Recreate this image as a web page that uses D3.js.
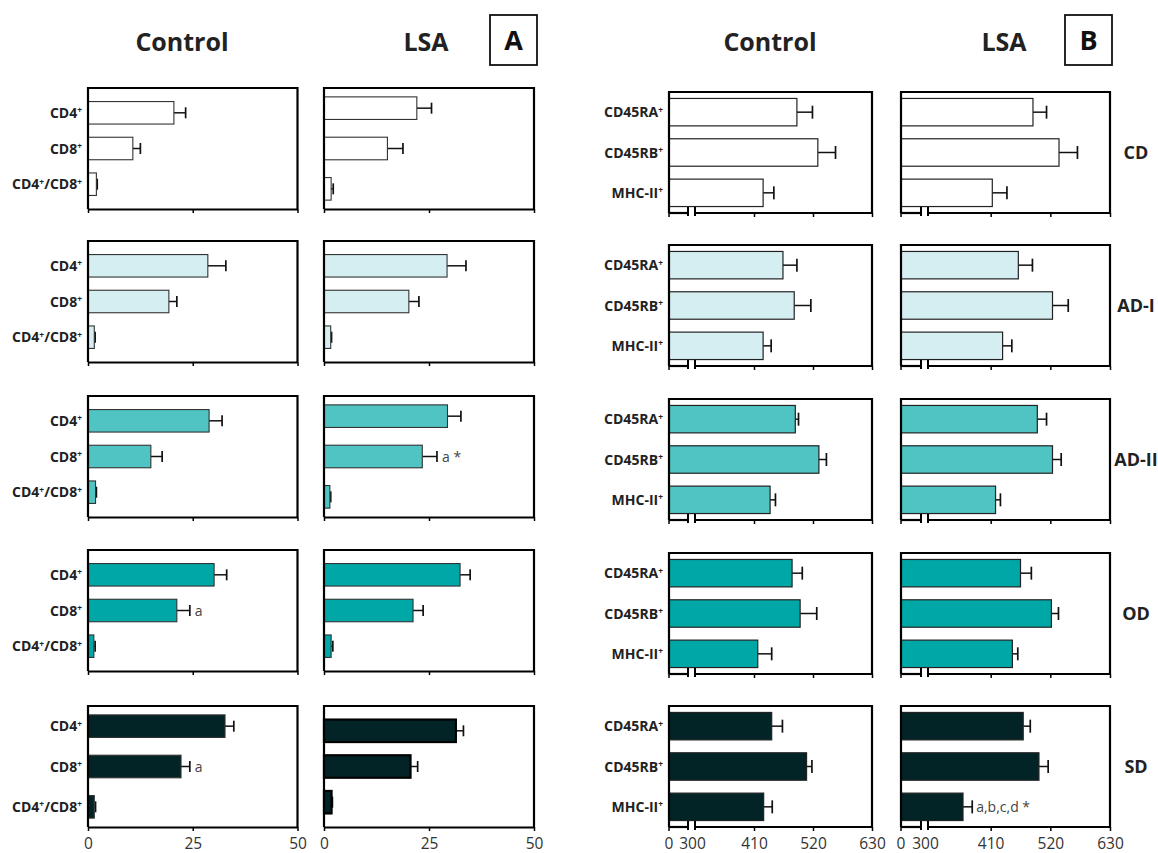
<!DOCTYPE html>
<html>
<head>
<meta charset="utf-8">
<script src="https://cdn.jsdelivr.net/npm/d3@7"></script>
<style>
  body { margin: 0; background: #fff; }
  svg { display: block; }
  text { font-family: "Open Sans", "Noto Sans", sans-serif; }
</style>
</head>
<body>
<svg id="chart" width="1158" height="853"></svg>
<script>
// ---- data -------------------------------------------------------------
const groups = ["CD", "AD-I", "AD-II", "OD", "SD"];
const tCells = ["CD4+", "CD8+", "CD4+/CD8+"];
const markers = ["CD45RA+", "CD45RB+", "MHC-II+"];
const ticksA = [0, 25, 50];
const ticksB = [300, 410, 520, 630];

// Panel A: T-cell subsets (%), mean and SE per group
const aControlMean = [[20.5, 10.7, 2.0], [28.6, 19.3, 1.5], [28.9, 15.0, 1.8], [30.1, 21.2, 1.4], [32.7, 22.2, 1.5]];
const aControlSE   = [[2.8, 1.8, 0.2], [4.3, 1.9, 0.2], [3.1, 2.7, 0.2], [3.0, 3.1, 0.3], [2.1, 2.1, 0.3]];
const aLsaMean     = [[22.1, 15.1, 1.7], [29.3, 20.2, 1.6], [29.4, 23.4, 1.4], [32.4, 21.2, 1.7], [31.4, 20.6, 1.8]];
const aLsaSE       = [[3.5, 3.7, 0.5], [4.5, 2.4, 0.2], [3.2, 3.5, 0.2], [2.4, 2.4, 0.4], [1.8, 1.7, 0.2]];

// Panel B: surface markers, mean and SE per group
const bControlMean = [[490, 529, 427], [464, 485, 427], [487, 531, 440], [481, 496, 417], [443, 508, 428]];
const bControlSE   = [[29, 33, 20], [26, 31, 15], [6, 14, 10], [19, 31, 26], [20, 10, 16]];
const bLsaMean     = [[488, 536, 413], [461, 524, 432], [496, 524, 419], [465, 522, 450], [470, 499, 359]];
const bLsaSE       = [[25, 34, 27], [26, 29, 17], [17, 16, 9], [20, 13, 10], [13, 17, 17]];

// significance letters
const notes = [
  { panel: "A", col: 1, row: 2, cat: 1, text: "a *" },
  { panel: "A", col: 0, row: 3, cat: 1, text: "a" },
  { panel: "A", col: 0, row: 4, cat: 1, text: "a" },
  { panel: "B", col: 1, row: 4, cat: 2, text: "a,b,c,d *" }
];

// ---- layout & style ---------------------------------------------------
const fills = ["#ffffff", "#d5eef2", "#50c3c3", "#00a7a7", "#022427"];
const boxH = 121;
const rowTopA = [88, 241, 396, 550, 706];
const rowTopB = [92, 245, 399, 553, 706];

const colsA = [
  { name: "Control", left: 88, right: 297.5, titleX: 182, mean: aControlMean, se: aControlSE, tight: [true, true, true, true, false] },
  { name: "LSA", left: 324, right: 534, titleX: 426, mean: aLsaMean, se: aLsaSE, tight: [false, true, false, true, true] }
];
const colsB = [
  { name: "Control", left: 669, stubEnd: 688, mainStart: 695, scaleStart: 695, right: 872, titleX: 770, mean: bControlMean, se: bControlSE },
  { name: "LSA", left: 901, stubEnd: 921, mainStart: 928, scaleStart: 931, right: 1110, titleX: 1004, mean: bLsaMean, se: bLsaSE }
];

const labelSize = 14;
const tickSize = 15.5;

const svg = d3.select("#chart");
svg.append("rect").attr("width", 1158).attr("height", 853).attr("fill", "#fff");

// label with "+" rendered as superscript
function supLabel(sel, label) {
  const parts = label.split(/(\+)/).filter(s => s.length);
  let raised = false;
  parts.forEach(p => {
    if (p === "+") {
      sel.append("tspan").attr("font-size", "0.6em").attr("dy", raised ? 0 : -4.5).text("+");
      raised = true;
    } else {
      sel.append("tspan").attr("dy", raised ? 4.5 : 0).text(p);
      raised = false;
    }
  });
}

function bandScale(top, tight, cats, wideBars) {
  const s = d3.scaleBand().domain(cats).range([top, top + boxH]);
  if (wideBars) s.paddingInner(0.32).paddingOuter(0.16);
  else if (tight) s.paddingInner(0.37).paddingOuter(0.38);
  else s.paddingInner(0.44).paddingOuter(0.22);
  return s;
}

function drawBars(g, y, x0, x, mean, se, fill, opts) {
  const cats = y.domain();
  const data = cats.map((c, i) => ({ c, m: mean[i], s: se[i] }));
  const capH = opts.capH;
  g.selectAll("line.err").data(data).join("line")
    .attr("class", "err")
    .attr("x1", d => x(d.m)).attr("x2", d => x(d.m + d.s))
    .attr("y1", d => y(d.c) + y.bandwidth() / 2).attr("y2", d => y(d.c) + y.bandwidth() / 2)
    .attr("stroke", "#111").attr("stroke-width", 1.5);
  g.selectAll("line.cap").data(data).join("line")
    .attr("class", "cap")
    .attr("x1", d => x(d.m + d.s)).attr("x2", d => x(d.m + d.s))
    .attr("y1", d => y(d.c) + y.bandwidth() / 2 - capH / 2)
    .attr("y2", d => y(d.c) + y.bandwidth() / 2 + capH / 2)
    .attr("stroke", "#111").attr("stroke-width", 1.7);
  g.selectAll("rect.bar").data(data).join("rect")
    .attr("class", "bar")
    .attr("x", x0).attr("y", d => y(d.c))
    .attr("width", d => Math.max(0, x(d.m) - x0))
    .attr("height", y.bandwidth())
    .attr("fill", fill)
    .attr("stroke", opts.stroke).attr("stroke-width", opts.strokeW);
}

function drawFrame(g, left, right, top, bottom) {
  g.append("path")
    .attr("d", `M${left},${bottom}V${top}H${right}V${bottom}`)
    .attr("fill", "none").attr("stroke", "#000").attr("stroke-width", 2.2);
}

// ---- Panel A ----------------------------------------------------------
groups.forEach((grp, r) => {
  colsA.forEach((col, ci) => {
    const g = svg.append("g");
    const top = rowTopA[r], bottom = top + boxH;
    const x = d3.scaleLinear().domain([0, 50]).range([col.left, col.right]);
    const y = bandScale(top, col.tight[r], tCells, false);
    drawBars(g, y, col.left, x, col.mean[r], col.se[r], fills[r], {
      capH: 11,
      stroke: ci === 1 && r === 4 ? "#000" : "#333",
      strokeW: ci === 1 && r === 4 ? 2.2 : 1.1
    });
    drawFrame(g, col.left, col.right, top, bottom);
    const ax = g.append("g").attr("transform", `translate(0,${bottom})`)
      .call(d3.axisBottom(x).tickValues(ticksA).tickSizeInner(4).tickSizeOuter(0).tickPadding(7)
        .tickFormat(r === groups.length - 1 ? d3.format("d") : () => ""));
    ax.select(".domain").attr("stroke-width", 2.2);
    ax.selectAll(".tick line").attr("stroke-width", 1.5);
    ax.selectAll("text").attr("font-size", tickSize).attr("fill", "#333")
      .style("font-family", '"Open Sans", sans-serif');
    if (ci === 0) {
      tCells.forEach(c => {
        const t = g.append("text")
          .attr("x", col.left - 6).attr("y", y(c) + y.bandwidth() / 2 + 5)
          .attr("text-anchor", "end").attr("font-size", labelSize).attr("font-weight", 700).attr("fill", "#222");
        supLabel(t, c);
      });
    }
    notes.filter(n => n.panel === "A" && n.col === ci && n.row === r).forEach(n => {
      const c = tCells[n.cat];
      g.append("text")
        .attr("x", x(col.mean[r][n.cat] + col.se[r][n.cat]) + 5)
        .attr("y", y(c) + y.bandwidth() / 2 + 5)
        .attr("font-size", 14).attr("fill", "#444").text(n.text);
    });
  });
});

// ---- Panel B ----------------------------------------------------------
groups.forEach((grp, r) => {
  colsB.forEach((col, ci) => {
    const g = svg.append("g");
    const top = rowTopB[r], bottom = top + boxH;
    const x = d3.scaleLinear().domain([300, 630]).range([col.scaleStart, col.right]);
    const y = bandScale(top, false, markers, true);
    drawBars(g, y, col.left, x, col.mean[r], col.se[r], fills[r], {
      capH: 13,
      stroke: "#222",
      strokeW: 1.2
    });
    drawFrame(g, col.left, col.right, top, bottom);
    // broken axis: short stub from 0, gap, then the 300–630 range
    g.append("line").attr("x1", col.left).attr("x2", col.stubEnd).attr("y1", bottom).attr("y2", bottom)
      .attr("stroke", "#000").attr("stroke-width", 2.2);
    g.append("line").attr("x1", col.mainStart).attr("x2", col.right).attr("y1", bottom).attr("y2", bottom)
      .attr("stroke", "#000").attr("stroke-width", 2.2);
    [col.stubEnd, col.mainStart].forEach(bx => {
      g.append("line").attr("x1", bx).attr("x2", bx).attr("y1", bottom - 6).attr("y2", bottom + 3)
        .attr("stroke", "#000").attr("stroke-width", 2);
    });
    const last = r === groups.length - 1;
    const ax = g.append("g").attr("transform", `translate(0,${bottom})`)
      .call(d3.axisBottom(x).tickValues(ticksB.slice(1)).tickSizeInner(4).tickSizeOuter(0).tickPadding(7)
        .tickFormat(last ? d3.format("d") : () => ""));
    ax.select(".domain").remove();
    ax.selectAll(".tick line").attr("stroke-width", 1.5);
    ax.selectAll("text").attr("font-size", tickSize).attr("fill", "#333")
      .style("font-family", '"Open Sans", sans-serif');
    g.append("line").attr("x1", col.left).attr("x2", col.left).attr("y1", bottom).attr("y2", bottom + 4)
      .attr("stroke", "#000").attr("stroke-width", 1.5);
    if (last) {
      g.append("text").attr("x", col.left).attr("y", bottom + 11).attr("dy", "0.71em")
        .attr("text-anchor", "middle").attr("font-size", tickSize).attr("fill", "#333").text("0");
      g.append("text").attr("x", (col.stubEnd + col.mainStart) / 2 + 1).attr("y", bottom + 11).attr("dy", "0.71em")
        .attr("text-anchor", "middle").attr("font-size", tickSize).attr("fill", "#333").text(String(ticksB[0]));
    }
    if (ci === 0) {
      markers.forEach(c => {
        const t = g.append("text")
          .attr("x", col.left - 6).attr("y", y(c) + y.bandwidth() / 2 + 5)
          .attr("text-anchor", "end").attr("font-size", labelSize).attr("font-weight", 700).attr("fill", "#222");
        supLabel(t, c);
      });
    } else {
      g.append("text").attr("x", 1136).attr("y", top + boxH / 2 + 6.5)
        .attr("text-anchor", "middle").attr("font-size", 18).attr("font-weight", 700).attr("fill", "#222")
        .text(grp);
    }
    notes.filter(n => n.panel === "B" && n.col === ci && n.row === r).forEach(n => {
      const c = markers[n.cat];
      g.append("text")
        .attr("x", x(col.mean[r][n.cat] + col.se[r][n.cat]) + 4)
        .attr("y", y(c) + y.bandwidth() / 2 + 5)
        .attr("font-size", 14).attr("fill", "#444").text(n.text);
    });
  });
});

// ---- column titles & panel letters -----------------------------------
[colsA, colsB].forEach(cols => {
  cols.forEach(col => {
    svg.append("text").attr("x", col.titleX).attr("y", 51)
      .attr("text-anchor", "middle").attr("font-size", 25).attr("font-weight", 700).attr("fill", "#222")
      .text(col.name);
  });
});
[["A", 490], ["B", 1065]].forEach(([letter, bx]) => {
  svg.append("rect").attr("x", bx).attr("y", 15).attr("width", 47).attr("height", 50)
    .attr("fill", "#fff").attr("stroke", "#111").attr("stroke-width", 1.8);
  svg.append("text").attr("x", bx + 23.5).attr("y", 50).attr("text-anchor", "middle")
    .attr("font-size", 27).attr("font-weight", 700).attr("fill", "#111").text(letter);
});
</script>
</body>
</html>
